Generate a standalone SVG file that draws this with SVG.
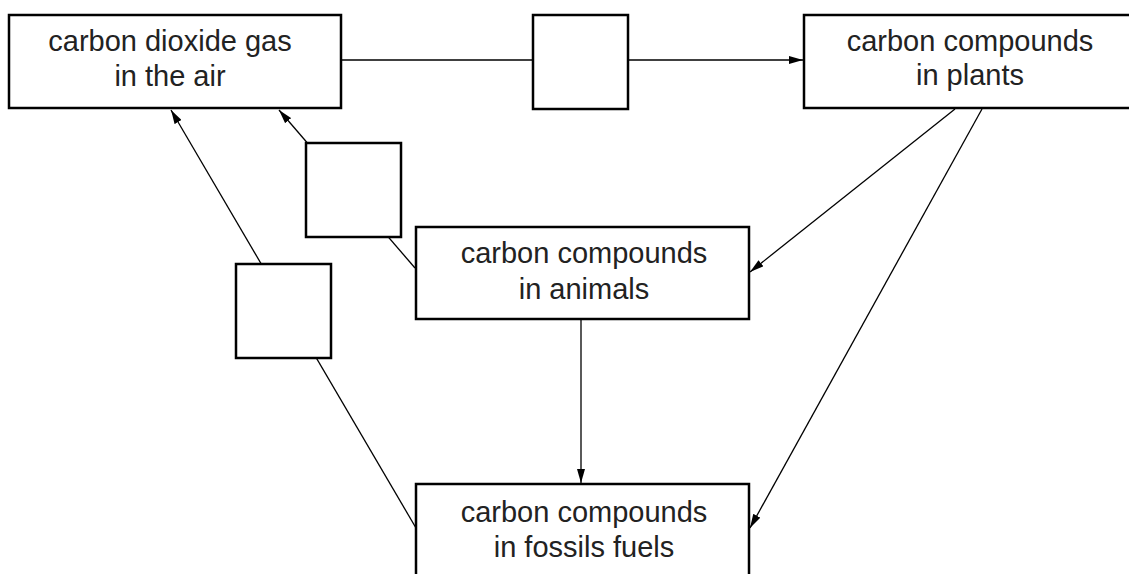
<svg xmlns="http://www.w3.org/2000/svg" width="1129" height="574" viewBox="0 0 1129 574">
<style>
.box{fill:#fff;stroke:#000;stroke-width:2.5}
.lbl{font-family:"Liberation Sans",Arial,sans-serif;font-size:29px;fill:#222;text-anchor:middle}
.ln{stroke:#000;stroke-width:1.3;fill:none}
</style>
<defs>
<marker id="ah" viewBox="0 0 14 8" refX="14" refY="4" markerWidth="14" markerHeight="8" markerUnits="userSpaceOnUse" orient="auto">
<path d="M0,0 L14,4 L0,8 Z" fill="#000"/>
</marker>
</defs>
<g id="connectors">
<line class="ln" x1="341" y1="60" x2="533" y2="60"/>
<line class="ln" x1="628" y1="60" x2="803" y2="60" marker-end="url(#ah)"/>
<line class="ln" x1="415" y1="268" x2="279" y2="110" marker-end="url(#ah)"/>
<line class="ln" x1="416" y1="528" x2="171" y2="110" marker-end="url(#ah)"/>
<line class="ln" x1="955" y1="109" x2="750" y2="272" marker-end="url(#ah)"/>
<line class="ln" x1="982" y1="109" x2="750" y2="528" marker-end="url(#ah)"/>
<line class="ln" x1="581" y1="319" x2="581" y2="483" marker-end="url(#ah)"/>
</g>
<g id="co2">
<rect class="box" x="9" y="15" width="332" height="93"/>
<text class="lbl" x="170" y="51">carbon dioxide gas</text>
<text class="lbl" x="170" y="86">in the air</text>
</g>
<g id="plants">
<rect class="box" x="804" y="15" width="332" height="93"/>
<text class="lbl" x="970" y="51">carbon compounds</text>
<text class="lbl" x="970" y="85">in plants</text>
</g>
<g id="animals">
<rect class="box" x="416" y="227" width="333" height="92"/>
<text class="lbl" x="584" y="263">carbon compounds</text>
<text class="lbl" x="584" y="299">in animals</text>
</g>
<g id="fossils">
<rect class="box" x="416" y="484" width="333" height="100"/>
<text class="lbl" x="584" y="522">carbon compounds</text>
<text class="lbl" x="584" y="557">in fossils fuels</text>
</g>
<g id="blank1"><rect class="box" x="533" y="15" width="95" height="94"/></g>
<g id="blank2"><rect class="box" x="306" y="143" width="95" height="94"/></g>
<g id="blank3"><rect class="box" x="236" y="264" width="95" height="94"/></g>
</svg>
